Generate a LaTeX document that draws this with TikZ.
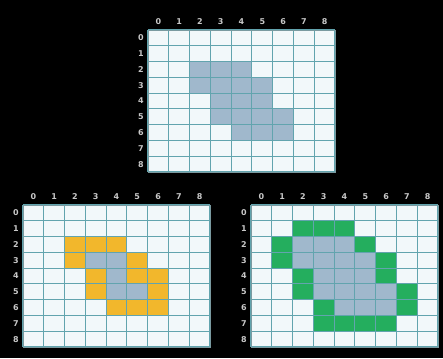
\documentclass[tikz,border=0pt]{standalone}
\usepackage{fontspec}
\setmainfont{DejaVu Sans}
\definecolor{cellc}{HTML}{F2F8FA}
\definecolor{linec}{HTML}{62A4AE}
\definecolor{edgec}{HTML}{7A9AA0}
\definecolor{bluec}{HTML}{A0B8CC}
\definecolor{orangec}{HTML}{F2B72C}
\definecolor{greenc}{HTML}{24AE5E}
\definecolor{labc}{HTML}{C8C8C8}
\tikzset{
  lab/.style={text=labc,font=\bfseries\fontsize{8}{9}\selectfont,inner sep=0pt},
  gline/.style={draw=linec,line width=1.1pt},
}
\newcommand{\gridpic}[3]{%
  \fill[cellc] (#1,#2) rectangle ++(187,142);
  \foreach \c/\r/\k in {#3}
    \fill[\k] ({#1+\c*187/9},{#2+\r*142/9}) rectangle ++(187/9,142/9);
  \foreach \i in {0,...,9}{
    \draw[gline] ({#1+\i*187/9},#2) -- ++(0,142);
    \draw[gline] (#1,{#2+\i*142/9}) -- ++(187,0);
  }
  \draw[edgec,line width=0.6pt] (#1,#2) rectangle ++(187,142);
  \foreach \i in {0,...,8}{
    \node[lab] at ({#1+(\i+0.5)*187/9},{#2-8}) {\i};
    \node[lab] at ({#1-7},{#2+(\i+0.5)*142/9}) {\i};
  }
}
\begin{document}
\begin{tikzpicture}[x=1pt,y=-1pt]
\fill[black] (0,0) rectangle (443,358);
\useasboundingbox (0,0) rectangle (443,358);
\gridpic{148}{30}{2/2/bluec,3/2/bluec,4/2/bluec,2/3/bluec,3/3/bluec,4/3/bluec,5/3/bluec,3/4/bluec,4/4/bluec,5/4/bluec,3/5/bluec,4/5/bluec,5/5/bluec,6/5/bluec,4/6/bluec,5/6/bluec,6/6/bluec}
\gridpic{23}{205}{2/2/orangec,3/2/orangec,4/2/orangec,2/3/orangec,5/3/orangec,3/4/orangec,5/4/orangec,6/4/orangec,3/5/orangec,6/5/orangec,4/6/orangec,5/6/orangec,6/6/orangec,3/3/bluec,4/3/bluec,4/4/bluec,4/5/bluec,5/5/bluec}
\gridpic{251}{205}{2/2/bluec,3/2/bluec,4/2/bluec,2/3/bluec,3/3/bluec,4/3/bluec,5/3/bluec,3/4/bluec,4/4/bluec,5/4/bluec,3/5/bluec,4/5/bluec,5/5/bluec,6/5/bluec,4/6/bluec,5/6/bluec,6/6/bluec,2/1/greenc,3/1/greenc,4/1/greenc,1/2/greenc,5/2/greenc,1/3/greenc,6/3/greenc,2/4/greenc,6/4/greenc,2/5/greenc,7/5/greenc,3/6/greenc,7/6/greenc,3/7/greenc,4/7/greenc,5/7/greenc,6/7/greenc}
\end{tikzpicture}
\end{document}
